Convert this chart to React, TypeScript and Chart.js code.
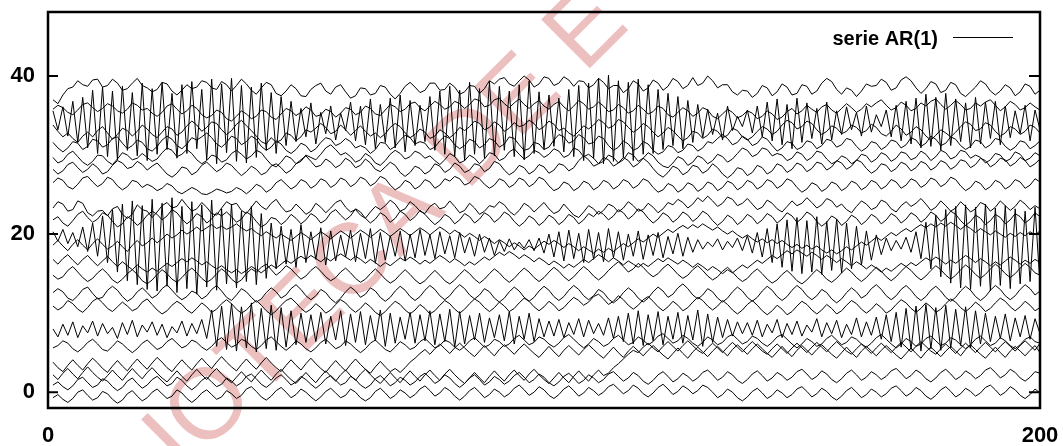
import React, { useEffect, useRef } from 'react';
import { Chart, registerables } from 'chart.js';

Chart.register(...registerables);

const seriesLabel = 'serie AR(1)';
const xTicks = [0, 200];
const yTicks = [0, 20, 40];
const watermarkText = 'BIBLIOTECA DE E';

const serie01 = [
37.0,36.5,37.6,38.4,38.6,39.4,38.9,38.7,39.5,39.6,38.6,38.8,39.6,39.1,38.2,38.4,39.1,39.7,38.8,38.5,
38.0,38.3,39.2,39.0,38.1,37.6,38.2,38.9,38.4,38.6,39.4,39.2,38.5,38.3,39.3,38.9,38.1,38.8,39.6,39.0,
38.2,37.7,38.5,39.2,38.9,37.8,37.5,38.1,38.9,38.4,37.5,37.4,38.3,38.8,39.1,38.1,37.7,38.6,38.9,38.0,
37.2,37.5,38.5,38.4,37.6,37.8,38.8,38.6,37.7,37.1,37.8,38.7,39.2,38.6,37.9,38.2,39.1,39.1,38.2,38.3,
39.1,38.6,37.7,38.0,38.8,38.7,37.8,38.4,39.4,39.0,39.6,39.8,39.0,38.7,39.4,40.0,39.5,38.6,39.0,39.9,
39.7,38.8,39.1,39.9,39.5,38.7,39.4,39.3,38.5,38.9,39.7,39.2,38.4,38.8,38.8,37.9,38.4,39.4,39.0,38.1,
38.5,39.5,39.1,38.2,38.7,39.7,39.3,38.4,38.8,39.8,38.8,39.1,40.0,39.4,38.5,38.9,38.9,38.0,37.6,38.2,
38.1,37.3,37.8,38.8,38.5,37.5,38.0,39.0,38.6,37.6,37.8,38.9,38.7,37.7,38.1,39.1,39.7,39.3,38.3,37.7,
38.5,38.2,37.4,38.1,39.0,38.7,38.8,39.6,39.2,38.2,38.5,39.5,39.9,39.4,38.5,37.8,38.4,39.3,39.0,37.9,
38.2,39.2,38.9,37.8,37.4,38.0,38.6,39.4,39.0,38.1,37.6,38.1,38.9,38.5,37.5,38.0,39.0,38.7,37.7,38.2
];

const serie02 = [
35.6,33.2,36.1,32.4,36.8,31.6,37.3,30.9,38.2,30.2,38.6,29.8,38.1,29.4,38.7,30.6,37.9,29.9,39.1,29.3,
38.4,30.1,39.2,30.7,37.8,29.6,38.9,30.2,39.3,30.8,38.3,29.4,39.6,28.9,39.0,30.3,39.7,29.2,38.8,29.0,
38.6,29.7,39.1,30.6,37.9,30.2,37.4,31.2,36.8,31.7,35.9,32.3,36.6,31.4,35.4,32.7,36.2,31.9,35.3,33.1,
36.7,31.8,36.2,31.3,37.1,30.8,36.4,31.6,37.2,30.9,37.6,30.4,36.9,31.2,36.3,31.7,37.4,30.6,38.1,30.1,
38.7,29.8,38.2,29.3,39.2,30.1,38.4,29.6,39.3,29.9,38.7,30.6,38.1,29.8,38.9,29.4,39.4,30.2,38.0,30.7,
37.6,31.1,37.2,30.4,38.3,29.8,38.8,29.3,39.1,29.6,39.7,28.9,40.1,29.2,39.4,29.7,39.2,29.3,39.6,30.1,
38.9,30.2,38.3,30.7,37.8,31.2,37.4,30.8,36.9,31.6,36.4,32.2,35.8,32.6,35.3,31.9,36.2,33.1,34.9,33.6,
35.7,32.8,36.2,32.3,36.7,31.8,37.1,31.3,36.4,30.8,37.2,31.6,36.6,32.1,35.9,31.4,36.7,31.9,35.6,32.6,
36.1,33.2,35.4,32.4,36.2,32.9,35.1,33.6,35.7,32.3,36.3,31.8,36.8,31.4,37.2,30.9,37.7,31.1,37.3,30.6,
37.8,31.2,37.1,31.7,36.6,30.9,37.3,31.4,36.7,32.1,36.8,31.3,36.2,32.2,35.6,32.7,36.3,31.8,35.7,33.2
];

const serie03 = [
35.8,36.3,36.0,35.4,35.1,35.7,36.4,36.6,36.0,35.5,35.9,36.5,36.2,35.6,35.3,35.8,36.6,36.3,35.7,35.9,
35.3,34.9,35.4,36.2,36.5,35.8,35.2,35.6,36.3,35.9,35.1,34.7,35.0,35.7,35.4,34.6,34.3,34.9,35.6,35.2,
34.6,34.9,35.7,35.5,34.8,34.5,35.2,35.9,35.6,35.0,35.4,36.1,35.7,34.9,35.1,35.8,35.5,34.8,35.3,36.0,
35.8,35.1,35.4,36.2,35.9,35.2,35.0,35.7,36.4,36.1,35.5,35.8,36.5,36.7,36.0,35.6,36.2,36.8,36.4,35.8,
36.1,36.8,36.5,35.9,36.4,37.1,36.9,36.1,36.3,37.0,37.2,36.5,36.0,36.6,37.1,36.4,35.9,36.5,36.9,36.2,
35.8,36.4,36.8,36.1,35.6,36.2,36.9,36.5,35.8,36.1,36.7,36.2,35.5,35.7,36.4,36.0,35.3,35.6,36.3,35.8,
35.2,35.5,36.2,35.9,35.1,34.8,35.4,36.0,35.6,34.9,35.3,36.0,35.7,34.9,34.6,35.2,35.8,35.4,34.7,35.0,
35.6,35.3,34.6,34.9,35.6,35.2,34.5,34.8,35.5,35.9,35.2,35.6,36.3,35.8,35.4,36.1,36.4,35.7,35.3,35.9,
36.5,36.0,35.4,35.8,36.5,36.1,36.6,37.0,36.3,35.7,36.0,36.7,36.3,35.6,35.9,36.6,36.2,36.8,37.1,36.4,
35.8,36.3,36.9,36.4,35.7,35.9,36.6,36.2,36.7,37.0,36.3,35.6,36.1,36.8,36.4,35.7,36.0,36.6,36.1,35.7
];

const serie04 = [
33.8,33.0,32.3,32.8,32.1,31.6,32.4,32.9,32.3,33.1,33.6,32.8,32.0,32.6,33.4,33.1,32.4,33.0,33.8,33.3,
32.6,32.2,32.9,33.6,33.3,32.5,32.9,33.7,34.3,33.8,33.0,33.5,34.2,34.0,33.2,32.6,33.1,33.9,34.4,33.7,
33.1,32.4,31.7,31.4,32.2,31.6,31.9,32.8,32.5,31.8,32.3,33.2,32.9,33.4,34.0,33.5,32.7,33.0,33.8,33.2,
32.5,33.1,33.7,33.0,32.4,32.8,32.2,32.7,33.5,34.0,33.6,32.8,32.2,32.6,33.3,32.9,32.1,32.4,33.2,32.8,
32.2,32.7,33.5,33.1,33.6,34.3,34.0,33.2,33.5,34.2,33.8,33.0,33.4,34.1,33.6,33.8,34.4,34.0,33.2,33.6,
34.3,33.9,33.1,33.4,32.8,32.4,33.0,33.7,33.3,33.8,34.5,34.1,33.4,33.7,34.5,34.2,33.5,32.9,33.3,34.0,
33.6,32.9,32.3,32.8,33.5,33.1,32.4,31.8,32.2,33.0,32.8,32.1,32.5,33.3,33.0,32.2,32.5,33.4,33.1,32.3,
31.9,32.3,33.0,33.6,33.3,32.6,33.0,33.8,34.4,34.1,33.3,33.6,34.3,34.0,33.2,32.6,33.0,33.7,33.4,32.7,
33.0,33.8,33.5,32.8,33.1,33.9,33.5,32.7,32.4,33.0,33.8,33.3,32.5,32.9,33.6,33.2,32.4,31.9,32.5,33.2,
32.8,32.3,32.9,33.6,34.2,33.9,33.1,33.3,34.1,33.8,33.0,32.4,32.8,33.6,33.3,32.6,33.0,33.8,33.5,32.8
];

const serie05 = [
31.6,30.9,30.4,30.9,31.7,31.5,30.7,31.1,32.0,31.8,31.0,31.3,32.1,32.3,31.5,30.8,31.2,31.9,31.6,30.8,
30.5,31.1,31.9,32.4,32.0,31.2,30.8,31.4,32.2,31.9,32.3,32.8,32.2,31.4,31.0,31.6,32.4,32.1,31.3,31.7,
32.4,32.0,31.1,30.6,31.0,31.8,31.4,30.6,30.2,30.7,31.5,31.2,30.4,30.8,31.6,32.2,32.0,31.2,31.5,32.1,
31.7,30.9,31.2,30.9,30.2,30.7,31.6,31.5,30.7,31.1,31.9,32.5,32.2,31.4,31.7,31.5,30.7,31.0,31.8,32.4,
32.1,31.3,30.8,31.2,32.0,31.7,30.9,31.3,32.1,31.8,31.0,31.4,32.3,32.1,31.3,30.6,30.8,31.6,31.4,30.7,
31.0,31.9,32.6,32.3,31.5,31.8,32.6,32.2,31.4,31.6,32.4,32.1,31.2,30.6,31.0,31.8,31.4,30.6,30.9,31.7,
31.4,30.6,30.1,30.4,31.2,31.0,30.3,30.6,31.4,31.2,30.5,30.9,31.7,31.5,32.1,32.6,32.1,31.3,31.6,32.4,
32.0,31.2,31.5,32.3,32.0,31.2,30.5,30.9,31.7,31.5,30.7,31.0,31.8,31.6,30.8,31.2,32.0,31.8,31.0,31.3,
32.1,31.9,31.1,30.5,30.9,31.7,31.5,30.7,31.1,31.9,31.7,30.9,31.3,32.2,31.9,31.1,31.5,32.4,32.0,31.2,
31.5,32.3,32.0,31.2,30.7,31.1,31.9,31.7,30.9,31.3,32.1,31.9,31.1,30.6,31.0,31.8,31.6,30.8,31.2,31.8
];

const serie06 = [
29.7,29.0,29.3,30.1,30.5,29.8,29.1,28.7,29.2,30.0,29.9,29.2,28.8,29.5,30.3,30.0,29.4,29.6,30.2,29.7,
29.2,29.5,30.3,30.9,30.6,29.8,30.1,30.7,30.2,29.4,28.9,29.3,30.0,29.8,29.1,29.4,30.2,30.6,30.1,29.5,
29.9,30.6,30.3,29.5,28.8,28.5,29.1,29.9,29.6,28.9,29.2,30.0,29.7,29.4,30.1,30.9,31.3,30.7,30.0,30.3,
29.8,29.1,29.4,30.2,29.8,29.0,28.7,29.3,30.1,30.6,30.2,29.5,29.8,30.5,30.2,29.6,29.9,29.3,28.8,29.4,
30.2,29.8,29.0,29.3,30.0,29.6,28.9,29.5,30.3,30.1,29.3,29.6,30.4,30.8,30.1,29.5,29.9,30.6,30.3,29.7,
30.1,30.8,30.5,29.7,30.0,30.9,30.6,29.8,30.1,29.6,28.9,29.2,30.0,29.7,29.0,29.4,30.3,30.0,29.2,29.6,
30.3,29.9,29.1,28.6,28.4,29.0,29.8,29.5,28.7,29.1,29.9,29.6,28.9,29.3,30.1,29.8,29.1,29.5,30.2,30.9,
30.6,29.8,30.1,30.9,30.7,29.9,30.2,30.0,29.3,29.6,30.4,30.1,29.3,29.7,30.5,30.3,29.5,28.9,29.2,29.9,
29.6,28.9,29.3,30.1,29.9,29.1,29.5,30.3,30.0,29.2,29.6,30.4,30.2,29.4,29.7,30.5,30.1,29.3,29.8,30.6,
30.3,29.5,29.8,30.6,30.4,29.6,30.0,29.7,29.0,29.4,30.2,30.0,29.2,29.5,30.4,30.1,29.3,29.6,30.3,29.9
];

const serie07 = [
28.2,27.6,28.0,28.8,29.1,28.4,27.8,28.2,28.9,28.4,27.6,27.9,28.7,29.3,29.0,28.3,28.5,29.2,28.8,28.1,
28.6,29.0,28.3,27.6,27.2,27.7,28.5,28.3,27.5,27.9,28.7,29.1,28.5,27.9,28.3,29.0,28.7,28.0,27.4,27.9,
28.6,28.2,27.5,27.8,28.6,28.9,28.4,27.7,28.1,28.9,29.4,29.9,29.2,28.5,28.7,29.5,29.1,28.4,28.8,29.6,
29.2,28.4,28.7,29.5,29.0,28.2,27.9,28.5,29.1,28.7,27.8,27.3,27.8,28.6,28.3,27.6,28.0,28.9,28.6,27.8,
28.2,29.0,28.6,27.8,28.1,28.9,28.7,27.9,28.3,29.2,28.9,28.1,27.5,27.9,28.7,28.4,27.6,28.0,28.8,28.5,
27.7,28.1,28.9,28.7,28.0,28.4,29.3,29.9,29.4,28.6,28.9,29.7,29.4,28.6,29.0,29.7,29.3,28.5,28.9,29.6,
29.1,28.3,27.6,27.2,27.8,28.6,28.3,27.5,27.9,28.7,28.5,27.7,28.1,28.9,28.4,27.6,27.1,27.6,28.4,28.2,
27.4,27.8,28.7,28.4,27.6,28.0,28.9,28.6,27.8,28.2,29.0,28.7,27.9,28.3,29.1,28.9,28.1,28.5,29.3,29.0,
28.2,28.6,29.4,29.1,28.3,27.7,28.1,28.9,28.7,27.9,28.3,29.1,28.8,28.0,28.4,29.2,28.9,28.1,28.5,29.3,
29.0,28.2,28.6,29.4,29.2,28.4,28.8,29.6,29.3,28.5,28.9,29.6,29.4,28.6,29.0,29.7,29.3,28.5,28.9,29.5
];

const serie08 = [
26.5,27.1,26.8,26.0,25.7,26.3,27.1,27.3,26.6,26.0,26.4,27.2,26.9,26.1,25.6,26.0,26.8,26.6,25.9,26.3,
26.0,25.5,25.8,26.4,26.1,25.4,25.1,25.5,25.9,25.6,25.1,25.0,25.3,25.7,25.5,25.2,25.4,25.9,25.6,25.1,
25.6,26.3,26.0,25.3,25.7,26.5,26.9,26.3,25.7,26.1,26.9,26.6,25.8,26.2,27.0,26.7,25.9,26.3,27.1,26.8,
26.0,26.4,27.2,26.9,26.1,26.5,27.3,27.0,26.2,25.6,26.0,26.8,26.5,25.7,26.1,26.9,26.6,25.8,26.2,27.0,
26.7,27.3,27.0,26.2,26.5,27.3,27.0,26.3,25.8,26.2,27.0,26.7,25.9,26.3,27.1,26.8,26.0,26.4,27.2,26.9,
26.1,25.5,25.8,26.6,26.3,25.5,25.9,26.7,26.4,25.6,26.0,26.8,26.5,25.7,26.1,26.9,26.6,25.8,26.2,27.0,
26.7,25.9,25.3,25.6,26.4,26.1,25.3,25.7,26.5,26.2,25.4,25.8,26.6,26.3,25.5,25.9,26.7,26.4,25.6,26.0,
26.8,26.5,25.7,26.1,26.9,26.6,25.8,26.2,27.0,26.7,25.9,25.3,25.7,26.5,26.2,25.4,25.8,26.6,26.3,25.5,
25.9,26.7,26.4,25.6,26.0,26.8,26.5,25.7,26.1,26.9,26.6,25.8,26.2,27.0,26.7,25.9,26.3,27.1,26.8,26.0,
26.4,27.2,26.9,26.1,25.5,25.9,26.7,26.4,25.6,26.0,26.8,26.5,25.7,26.1,26.9,26.6,25.8,26.2,27.0,26.6
];

const serie09 = [
23.3,24.1,23.8,22.9,23.1,24.2,23.9,22.7,22.3,22.9,23.0,22.3,23.2,23.5,22.5,22.0,22.5,23.7,23.1,22.9,
22.1,22.8,23.6,24.0,23.3,23.5,24.4,23.6,22.9,23.2,24.0,23.4,22.6,22.4,23.3,24.1,23.7,23.9,23.0,22.6,
23.4,24.2,23.5,23.1,23.9,24.4,23.5,22.8,23.0,23.8,23.2,22.5,22.9,23.9,23.4,22.7,23.3,24.0,24.3,23.4,
22.8,23.1,22.4,22.0,22.8,23.5,23.1,23.6,24.3,23.8,22.9,23.2,24.1,23.6,22.9,22.6,23.5,23.9,23.2,23.4,
24.2,23.5,22.7,23.0,23.9,23.3,22.5,22.9,23.6,23.4,24.1,23.7,22.9,22.4,23.0,23.9,23.5,22.8,23.4,24.0,
23.2,22.6,22.9,23.8,23.1,22.4,22.1,22.8,23.6,23.2,22.5,23.0,23.8,23.5,22.8,23.3,24.1,23.6,22.9,23.1,
23.9,23.4,22.7,23.2,24.0,23.7,24.4,24.0,23.3,23.8,24.6,24.1,24.8,24.2,23.5,23.9,24.7,24.4,23.6,23.9,
24.5,23.8,23.1,23.4,24.3,23.9,23.2,22.8,23.5,24.2,23.6,23.9,24.6,24.0,23.3,23.7,24.5,24.2,23.4,23.8,
23.1,22.7,23.5,24.2,23.8,23.1,23.4,24.3,24.0,23.2,22.8,23.6,24.1,23.5,23.9,24.5,23.8,23.0,23.4,24.2,
23.6,22.9,23.3,24.1,23.5,22.8,23.2,24.0,23.7,22.9,23.4,24.2,23.6,23.0,23.5,24.3,23.8,23.1,23.6,23.2
];

const serie10 = [
21.8,22.2,21.4,21.0,21.7,22.5,22.9,22.1,21.5,21.9,22.7,22.4,21.6,20.9,21.3,22.2,21.8,21.1,21.6,22.4,
22.9,22.5,21.8,22.3,23.1,22.7,21.9,21.3,21.8,22.6,22.2,21.4,21.9,22.7,22.3,22.8,22.2,21.5,21.9,22.8,
22.4,21.6,20.9,21.3,22.1,21.9,21.2,21.7,22.5,22.0,21.3,21.8,22.6,22.2,21.4,21.8,22.7,23.1,22.4,21.8,
22.3,23.2,22.8,22.0,21.4,21.9,22.7,22.3,21.5,22.0,22.9,22.5,21.7,22.2,23.0,22.5,21.8,21.2,21.7,22.5,
22.1,21.3,21.8,22.6,22.2,21.4,21.9,22.7,22.3,21.5,22.0,22.8,22.4,21.6,21.0,21.5,22.3,21.9,21.1,21.6,
22.4,22.0,21.2,21.7,22.5,22.1,21.3,21.8,22.6,22.2,22.9,22.5,21.8,22.3,23.1,22.7,21.9,22.4,23.2,22.8,
22.0,21.4,21.9,22.7,22.3,21.5,22.0,22.8,22.4,21.6,22.1,22.9,22.5,21.7,21.1,21.6,22.4,22.0,21.2,21.7,
22.5,22.1,21.3,21.8,22.6,22.2,21.4,21.9,22.7,22.3,21.5,22.0,22.8,22.4,21.6,21.0,21.5,22.3,21.9,21.1,
21.6,22.4,22.0,21.2,21.7,22.5,22.1,21.3,21.8,22.6,22.2,21.4,21.9,22.7,22.3,21.5,22.0,22.8,22.4,21.6,
22.1,22.9,22.5,21.7,21.1,21.6,22.4,22.0,21.2,21.7,22.5,22.1,21.3,21.8,22.6,22.2,21.4,21.9,22.7,22.2
];

const serie11 = [
20.3,19.1,20.6,18.8,20.2,18.4,20.9,17.8,21.4,17.2,22.3,16.4,
23.1,15.2,23.8,14.1,24.2,13.6,23.6,13.0,24.4,12.8,23.9,13.4,24.6,12.6,23.5,13.1,24.1,12.4,23.7,13.3,
24.3,12.9,23.2,13.7,23.8,13.2,22.9,14.0,23.5,13.6,22.6,14.4,
21.4,15.6,21.0,16.2,20.6,15.8,21.2,16.4,20.3,16.8,20.8,16.1,20.4,16.6,19.9,17.1,20.5,16.5,20.1,16.9,
20.7,16.3,20.2,16.7,19.8,17.2,20.4,16.6,20.0,17.0,20.6,
17.3,19.9,16.9,20.3,17.5,19.8,17.0,20.2,17.6,19.6,17.2,20.0,17.7,19.5,17.3,
19.2,17.8,19.4,18.0,19.0,18.2,19.3,17.9,19.5,17.6,
20.0,17.1,20.3,16.6,20.5,16.9,20.1,16.4,20.6,16.8,20.2,16.5,20.7,17.0,20.3,16.7,20.0,17.2,20.4,16.8,
19.9,17.3,20.2,17.0,19.7,17.5,20.1,17.2,19.6,17.7,
19.3,18.1,19.0,18.4,19.4,18.0,19.1,18.3,19.5,17.9,19.8,17.6,20.2,17.1,20.7,
16.4,21.3,15.8,21.8,15.3,22.1,15.0,21.7,15.2,22.2,14.9,21.6,15.4,21.9,15.1,21.4,15.6,21.0,16.1,20.4,16.7,
19.9,17.4,19.5,17.9,19.2,18.1,19.6,17.7,20.3,16.9,
21.5,15.6,22.4,14.6,23.1,13.8,23.5,13.2,23.7,13.0,23.4,13.4,23.8,12.8,23.3,13.5,23.6,13.1,23.2,13.7,
22.9,14.0,23.4,13.6
];

const serie12 = [
18.6,19.2,18.5,17.9,18.7,19.3,18.6,18.0,18.8,19.4,18.7,18.1,18.5,19.1,18.4,17.8,18.6,19.2,18.5,18.9,
19.5,18.9,19.4,20.0,19.5,19.9,20.5,20.0,20.4,20.9,20.4,20.8,21.2,20.7,21.0,20.6,20.9,21.3,20.8,20.4,
20.7,20.2,19.8,20.3,19.9,19.5,20.0,19.6,19.2,19.7,20.2,19.8,19.3,19.8,20.3,19.9,19.4,19.9,20.4,20.0,
19.5,20.0,20.5,20.1,19.6,20.1,20.6,20.2,19.7,20.2,20.7,20.3,19.8,20.3,20.8,20.4,19.9,20.4,20.9,20.5,
20.0,20.5,20.1,19.6,20.1,19.7,19.2,19.7,19.3,18.8,19.3,18.9,18.4,18.9,18.5,18.0,18.5,18.1,18.6,19.1,
18.7,19.2,18.8,18.3,18.8,18.4,17.9,18.4,18.0,17.6,18.1,17.7,18.2,17.8,18.3,18.8,18.4,18.9,19.4,19.0,
19.5,20.0,19.6,20.1,20.6,20.2,20.7,21.1,20.7,21.2,20.8,21.3,20.9,20.5,20.9,20.4,20.0,20.4,19.9,19.5,
19.9,19.4,19.0,19.4,18.9,19.3,18.8,19.2,18.7,18.3,18.7,18.2,18.6,18.1,18.5,18.0,17.6,18.0,17.5,17.9,
18.4,18.0,18.5,19.0,18.6,19.1,19.6,19.2,19.7,20.2,19.8,20.3,20.7,20.3,20.8,21.2,20.8,21.3,20.9,21.4,
21.0,21.5,21.1,20.6,21.1,20.7,20.2,20.7,20.3,19.9,20.4,20.0,19.6,20.1,19.7,20.2,19.8,20.3,19.9,20.4
];

const serie13 = [
16.8,16.2,16.9,17.4,16.7,16.1,16.8,17.3,16.6,16.0,16.6,17.2,16.5,15.9,16.5,16.0,15.5,16.1,15.6,15.2,
15.7,15.3,15.8,16.3,15.9,16.4,16.9,16.5,17.0,16.6,16.1,16.5,16.0,15.6,16.0,15.5,15.1,15.5,15.0,15.4,
15.9,15.5,15.1,15.6,16.1,15.7,16.2,16.7,16.3,16.8,17.2,16.8,17.3,16.9,16.5,17.0,16.6,17.1,17.5,17.1,
16.7,17.2,16.8,16.3,16.8,16.4,15.9,16.4,16.0,16.5,17.0,16.6,17.1,16.7,16.2,16.7,16.3,16.8,17.3,16.9,
16.4,16.9,16.5,16.0,16.5,16.1,16.6,17.1,16.7,17.2,17.7,17.3,17.8,17.4,16.9,17.4,17.0,16.5,17.0,16.6,
16.1,16.6,16.2,15.7,16.2,15.8,16.3,16.8,16.4,16.9,17.4,17.0,16.5,17.0,16.6,16.1,16.6,16.2,15.8,16.3,
15.9,16.4,16.9,16.5,17.0,16.6,16.2,16.7,16.3,15.8,16.3,15.9,15.4,15.9,15.5,15.0,15.5,15.1,15.6,16.1,
15.7,16.2,16.7,16.3,16.8,17.3,16.9,17.4,17.9,17.5,18.0,17.6,17.2,17.7,17.3,16.8,17.3,16.9,16.4,16.9,
16.5,16.0,16.5,16.1,15.6,16.1,15.7,15.2,15.7,15.3,15.8,16.3,15.9,16.4,16.0,16.5,17.0,16.6,17.1,16.7,
16.2,16.7,16.3,16.8,17.3,16.9,16.4,16.9,16.5,16.0,16.5,16.1,16.6,17.1,16.7,16.2,16.7,16.3,16.8,16.4
];

const serie14 = [
14.8,14.3,14.6,15.4,15.9,15.2,14.5,14.0,14.4,15.1,15.6,15.0,14.2,13.8,14.3,15.0,15.5,14.9,14.1,13.7,
14.2,14.9,15.5,15.0,14.3,13.9,14.5,15.2,15.7,15.1,14.4,13.9,14.3,15.0,15.6,15.1,14.3,13.8,14.2,15.0,
15.6,15.2,15.8,16.2,15.5,14.8,15.3,16.0,15.6,14.9,14.3,14.7,15.4,15.9,15.3,14.6,14.1,14.5,15.2,15.7,
15.1,14.4,13.9,14.3,15.0,15.6,15.0,14.3,13.8,14.2,14.9,15.5,14.9,14.2,13.7,14.1,14.8,15.4,14.8,14.1,
13.7,14.2,14.9,15.5,15.0,14.3,13.8,14.3,15.0,15.6,15.1,14.4,13.9,14.4,15.1,15.7,15.2,14.5,14.0,14.5,
15.2,15.8,15.3,14.6,14.1,14.6,15.3,15.9,15.4,14.7,14.2,14.7,15.4,16.0,16.5,15.9,15.2,15.6,16.3,15.8,
15.1,14.6,15.0,15.7,16.2,15.6,14.9,14.4,14.8,15.5,16.0,15.4,14.7,14.2,14.6,15.3,15.8,15.2,14.5,14.0,
14.4,15.1,15.6,15.0,14.3,13.8,14.2,14.9,15.4,14.8,14.1,13.7,14.2,14.9,15.5,15.0,14.3,13.9,14.4,15.1,
15.7,15.2,14.5,14.0,14.5,15.2,15.8,15.3,14.6,14.1,14.6,15.3,15.9,15.4,14.7,14.2,14.7,15.4,16.0,15.5,
14.8,14.3,14.8,15.5,16.1,15.6,14.9,14.4,14.9,15.6,16.2,15.7,15.0,14.5,15.0,15.7,16.3,15.8,15.1,14.8
];

const serie15 = [
12.6,13.1,12.7,11.9,11.6,12.2,13.0,13.3,12.5,11.8,12.0,12.9,13.4,12.9,12.1,11.5,11.9,12.7,13.2,12.6,
11.9,12.3,13.1,13.6,12.9,12.2,11.7,12.1,12.8,12.5,11.8,12.2,13.0,13.5,12.8,12.0,11.6,12.3,13.1,12.7,
12.0,11.4,11.8,12.6,13.2,12.7,11.9,12.3,13.1,13.6,13.0,12.2,11.7,12.2,13.0,12.6,11.8,11.3,11.9,12.7,
13.3,12.8,12.0,12.4,13.2,12.8,12.0,11.5,12.0,12.8,13.4,12.9,12.1,11.6,12.1,12.9,13.5,13.0,12.2,11.7,
12.2,13.0,13.6,13.1,12.3,11.8,12.3,13.1,12.7,11.9,11.4,11.9,12.7,13.3,12.8,12.0,11.5,12.0,12.8,13.4,
12.9,12.1,11.6,12.1,12.9,13.5,13.0,12.2,11.7,12.2,13.0,12.6,11.8,11.3,11.8,12.6,13.2,12.7,11.9,11.4,
11.9,12.7,13.3,12.8,12.0,12.4,13.2,13.7,13.1,12.3,11.8,12.3,13.1,12.7,11.9,11.4,11.9,12.7,13.3,12.8,
12.0,11.5,12.0,12.8,13.4,12.9,12.1,11.6,12.1,12.9,13.5,13.0,12.2,11.7,12.2,13.0,12.6,11.8,11.3,11.8,
12.6,13.2,12.7,11.9,12.3,13.1,13.6,13.0,12.2,11.7,12.2,13.0,13.5,12.9,12.1,11.6,12.1,12.9,13.4,12.8,
12.0,11.5,12.0,12.8,13.4,12.9,12.1,11.6,12.1,12.9,13.5,13.0,12.2,11.7,12.2,13.0,13.6,13.1,12.3,12.8
];

const serie16 = [
10.9,10.4,10.8,11.6,11.2,10.5,10.1,10.7,11.5,11.9,11.3,10.6,10.2,10.8,11.4,10.9,10.3,10.6,11.4,11.8,
11.1,10.4,9.9,10.3,11.0,11.5,11.1,10.4,10.0,10.6,11.3,10.8,10.1,10.5,11.2,11.7,11.2,10.5,10.0,10.4,
11.1,11.6,11.0,10.3,9.8,10.3,11.0,11.6,11.9,11.3,10.6,10.1,10.5,11.2,10.7,10.0,10.4,11.1,11.7,11.3,
10.6,10.1,10.6,11.3,10.8,10.1,9.7,10.2,10.9,11.5,11.1,10.4,9.9,10.4,11.1,10.6,9.9,10.3,11.0,11.6,
11.2,10.5,10.0,10.5,11.2,11.8,11.4,10.7,10.2,10.7,11.4,10.9,10.2,10.6,11.3,11.9,11.5,10.8,10.3,10.8,
11.5,11.0,10.3,10.7,11.4,12.0,11.6,11.0,11.4,12.1,12.4,11.8,11.1,11.5,12.2,11.7,11.0,10.5,11.0,11.7,
12.1,11.5,10.8,10.3,10.8,11.5,11.0,10.3,10.7,11.4,12.0,11.6,10.9,10.4,10.9,11.6,11.1,10.4,9.9,10.4,
11.1,11.6,11.0,10.3,9.8,10.3,11.0,10.5,9.8,10.2,10.9,11.5,11.1,10.4,9.9,10.4,11.1,10.6,9.9,10.3,
11.0,11.6,11.2,10.5,10.0,10.5,11.2,10.7,10.0,10.4,11.1,11.7,11.3,10.6,10.1,10.6,11.3,10.8,10.1,10.5,
11.2,11.8,11.4,10.7,10.2,10.7,11.4,10.9,10.2,10.6,11.3,11.9,11.5,10.8,10.3,10.8,11.5,11.0,10.3,10.7
];

const serie17 = [
8.0,7.0,8.6,7.2,8.9,6.9,8.4,7.5,9.0,7.1,8.7,7.4,8.2,6.8,8.8,7.3,9.1,7.0,8.5,7.6,
8.9,7.2,8.6,6.9,8.3,7.5,9.0,7.1,8.7,7.4,9.2,6.8,
10.4,5.8,10.9,5.4,11.2,5.2,10.8,5.6,11.3,5.1,10.6,5.5,11.0,5.3,10.7,5.7,10.3,6.0,10.0,6.3,
9.8,6.4,10.1,6.1,9.6,6.6,10.3,5.9,9.9,6.3,10.2,6.0,9.7,6.5,10.4,5.8,10.0,6.2,9.5,6.7,
10.1,6.2,9.8,6.5,10.3,6.0,9.9,6.4,10.5,5.7,10.2,6.1,9.7,6.6,10.0,6.3,9.4,6.9,9.8,6.5,
10.2,6.1,9.6,6.7,10.0,6.4,9.3,7.0,
9.0,7.1,9.2,6.9,8.8,7.3,9.3,7.0,9.1,7.4,8.7,7.2,9.4,6.8,9.6,
6.4,10.0,6.1,10.3,5.9,9.8,6.5,10.2,6.0,9.6,6.7,10.1,6.2,9.7,6.6,10.4,5.8,9.9,6.3,9.5,
6.9,9.2,7.1,8.9,7.4,
8.8,7.2,9.1,7.0,8.6,7.5,9.2,6.9,8.7,7.3,9.0,7.1,8.5,7.6,9.3,7.0,8.8,7.4,9.1,6.9,
8.6,7.3,9.4,7.0,8.9,7.2,9.5,6.7,9.8,6.4,10.1,
5.7,10.6,5.4,10.9,5.2,11.1,5.5,10.7,5.3,11.0,5.6,10.5,5.9,10.8,5.6,10.3,6.1,10.0,6.4,
9.6,6.8,9.9,6.5,9.4,7.0,9.7,6.7,9.3,7.4
];

const serie18 = [
5.6,5.9,6.5,6.2,5.5,5.1,5.6,6.3,6.7,6.1,5.4,5.2,5.8,6.5,6.1,5.5,5.0,5.5,6.2,6.6,
6.0,5.4,5.7,6.4,6.8,6.2,5.6,5.9,6.6,6.3,5.7,5.3,5.8,6.5,6.9,6.3,5.7,6.0,6.7,6.4,
5.8,5.4,5.9,6.6,7.0,6.4,5.8,5.3,5.8,6.5,6.1,5.5,5.1,5.6,6.3,6.7,6.1,5.5,5.8,6.5,
6.1,5.5,5.0,5.5,6.2,6.6,6.0,5.4,5.1,5.7,6.4,6.0,5.4,5.7,6.4,6.8,6.2,5.6,5.9,6.6,
6.3,5.7,5.3,5.8,6.5,6.9,6.3,5.7,6.0,6.7,6.4,5.8,6.1,6.8,7.2,6.6,6.0,6.3,7.0,6.7,
6.1,5.7,6.2,6.9,7.3,6.7,6.1,5.6,6.1,6.8,6.4,5.8,6.1,6.8,7.2,6.6,6.0,6.3,7.0,6.6,
6.0,6.4,7.1,7.4,6.8,6.2,6.5,7.2,6.8,6.2,5.8,6.3,7.0,6.6,6.0,6.3,7.0,7.3,6.7,6.1,
6.4,7.1,6.8,6.2,5.8,6.3,7.0,7.3,6.7,6.1,5.6,6.1,6.8,6.4,5.8,6.1,6.8,7.2,6.6,6.0,
6.3,7.0,6.7,6.1,5.7,6.2,6.9,7.3,6.7,6.1,5.6,6.1,6.8,6.4,5.8,6.1,6.8,7.1,6.5,5.9,
6.2,6.9,6.6,6.0,5.5,6.0,6.7,7.1,6.5,5.9,6.2,6.9,6.5,5.9,5.5,6.0,6.7,7.0,6.4,6.2
];

const serie19 = [
3.8,3.1,2.6,3.4,4.1,3.4,2.8,3.6,4.3,3.7,3.0,2.5,3.3,4.0,3.3,2.7,3.5,4.2,3.5,2.9,
3.7,4.4,3.8,3.1,2.6,3.4,4.1,3.4,2.8,3.6,4.3,3.6,3.0,3.8,4.5,3.8,3.2,2.7,3.5,4.2,
3.5,2.9,3.7,4.4,3.7,3.1,2.6,3.4,4.1,3.4,2.8,3.6,4.3,3.6,3.0,2.5,3.3,4.0,3.3,2.7,
3.5,4.2,3.5,2.9,2.4,3.2,3.9,3.2,2.6,3.0,2.5,3.1,3.8,4.3,4.9,5.4,4.8,5.5,6.1,5.5,
4.9,5.6,6.2,5.6,5.0,4.5,5.2,5.9,5.2,4.6,5.4,6.0,5.4,4.8,5.5,6.1,5.5,4.9,4.4,5.1,
5.8,5.1,4.5,5.3,5.9,5.3,4.7,5.4,6.0,5.4,4.8,4.3,5.0,5.7,5.0,4.4,5.2,5.8,5.2,4.6,
5.3,5.9,5.3,4.7,4.2,4.9,5.6,4.9,4.3,5.1,5.7,5.1,4.5,5.2,5.8,5.2,4.6,5.4,6.0,5.4,
4.8,5.5,6.1,5.5,4.9,4.4,5.1,5.8,5.1,4.5,5.3,5.9,5.3,4.7,5.4,6.0,5.4,4.8,4.3,5.0,
5.7,5.0,4.4,5.2,5.8,5.2,4.6,5.3,5.9,5.3,4.7,4.2,4.9,5.6,4.9,4.3,5.1,5.7,5.1,4.5,
5.2,5.8,5.2,4.6,5.4,6.0,5.4,4.8,4.3,5.0,5.7,5.0,4.4,5.2,5.8,5.2,4.6,5.3,5.9,5.0
];

const serie20 = [
2.2,1.6,2.4,3.0,2.3,1.7,2.5,3.2,2.5,1.9,1.4,2.1,2.8,2.1,1.5,2.3,3.0,2.3,1.7,2.5,
3.1,2.4,1.8,1.3,2.0,2.7,2.0,1.4,2.2,2.9,2.2,1.6,2.4,3.0,2.3,1.7,1.2,1.9,2.6,1.9,
1.3,2.1,2.8,2.1,1.5,2.3,2.9,2.2,1.6,1.1,1.8,2.5,1.8,1.2,2.0,2.7,2.0,1.4,2.2,2.8,
2.1,1.5,2.3,2.9,2.2,1.6,1.1,1.8,2.5,1.8,1.2,2.0,2.7,2.0,1.4,2.2,2.8,2.1,1.5,2.3,
2.9,2.2,1.6,1.1,1.8,2.5,1.8,1.2,2.0,2.7,2.0,1.4,2.2,2.8,2.1,1.5,2.3,2.9,2.2,1.6,
1.1,1.8,2.5,1.8,1.2,2.0,2.7,2.0,1.4,2.2,2.8,2.1,2.4,3.1,3.6,4.2,4.8,5.3,5.0,5.7,
6.2,5.6,5.1,5.8,6.4,5.8,5.2,5.9,6.5,5.9,5.3,4.9,5.6,6.2,5.6,5.0,5.7,6.3,5.7,5.1,
5.8,6.4,5.8,5.2,4.8,5.5,6.1,5.5,4.9,5.6,6.2,5.6,5.0,5.7,6.3,5.7,5.1,5.8,6.4,5.8,
5.2,4.8,5.5,6.1,5.5,4.9,5.6,6.2,5.6,5.0,5.7,6.3,5.7,5.1,5.8,6.4,5.8,5.2,4.8,5.5,
6.1,5.5,4.9,5.6,6.2,5.6,5.0,5.7,6.3,5.7,5.1,5.8,6.4,5.8,5.2,5.9,6.5,5.9,5.3,6.2
];

const serie21 = [
0.9,1.3,0.7,0.3,0.8,1.6,1.9,1.2,0.6,0.9,1.7,1.4,0.7,0.2,0.6,1.4,1.8,1.1,0.5,0.9,
1.6,2.0,1.4,0.8,1.1,1.9,1.5,0.8,0.3,0.8,1.5,1.9,1.3,0.7,1.0,1.8,1.4,0.8,1.2,2.0,
2.3,1.7,1.0,0.6,1.1,1.8,2.2,1.6,0.9,1.3,2.0,1.6,1.0,0.5,1.0,1.7,2.1,1.5,0.9,1.2,
2.0,1.6,0.9,0.5,0.9,1.7,2.1,1.5,0.8,1.2,1.9,1.5,0.9,1.3,2.0,2.4,1.8,1.1,1.5,2.2,
1.8,1.1,0.6,1.1,1.8,2.2,1.6,0.9,1.3,2.0,1.6,1.0,1.4,2.1,2.5,1.9,1.2,1.6,2.3,1.9,
1.2,0.8,1.3,2.0,2.4,1.8,1.1,1.5,2.2,1.8,1.2,1.6,2.3,2.6,2.0,1.4,1.8,2.5,2.1,1.4,
1.0,1.5,2.2,2.6,2.0,1.3,1.7,2.4,2.0,1.4,1.8,2.5,2.8,2.2,1.5,1.9,2.6,2.2,1.5,1.1,
1.6,2.3,2.7,2.1,1.4,1.8,2.5,2.1,1.5,1.9,2.6,2.9,2.3,1.6,2.0,2.7,2.3,1.6,1.2,1.7,
2.4,2.8,2.2,1.5,1.9,2.6,2.2,1.6,2.0,2.7,3.0,2.4,1.7,2.1,2.8,2.4,1.7,1.3,1.8,2.5,
2.9,2.3,1.6,2.0,2.7,2.3,1.7,2.1,2.8,3.1,2.5,1.8,2.2,2.9,2.5,1.8,1.4,1.9,2.6,2.4
];

const serie22 = [
-0.7,-0.3,-0.9,-1.3,-0.8,0.0,0.3,-0.4,-1.0,-0.7,0.1,-0.2,-0.9,-1.4,-1.0,-0.2,0.2,-0.5,-1.1,-0.7,
0.0,0.4,-0.2,-0.8,-0.5,0.3,-0.1,-0.8,-1.3,-0.8,-0.1,0.3,-0.3,-0.9,-0.6,0.2,-0.2,-0.8,-0.4,0.4,
0.7,0.1,-0.6,-1.0,-0.5,0.2,0.6,0.0,-0.7,-0.3,0.4,0.0,-0.6,-1.1,-0.6,0.1,0.5,-0.1,-0.7,-0.4,
0.4,0.0,-0.7,-1.1,-0.7,0.1,0.5,-0.1,-0.8,-0.4,0.3,-0.1,-0.7,-0.3,0.4,0.8,0.2,-0.5,-0.1,0.6,
0.2,-0.5,-1.0,-0.5,0.2,0.6,0.0,-0.7,-0.3,0.4,0.0,-0.6,-0.2,0.5,0.9,0.3,-0.4,0.0,0.7,0.3,
-0.4,-0.8,-0.3,0.4,0.8,0.2,-0.5,-0.1,0.6,0.2,-0.4,0.0,0.7,1.0,0.4,-0.2,0.2,0.9,0.5,-0.2,
-0.6,-0.1,0.6,1.0,0.4,-0.3,0.1,0.8,0.4,-0.2,0.2,0.9,0.6,0.0,-0.7,-0.3,0.4,0.0,-0.7,-1.1,
-0.6,0.1,0.5,-0.1,-0.8,-0.4,0.3,-0.1,-0.7,-0.3,0.4,0.7,0.1,-0.6,-0.2,0.5,0.1,-0.6,-1.0,-0.5,
0.2,0.6,0.0,-0.7,-0.3,0.4,0.0,-0.6,-0.2,0.5,0.8,0.2,-0.5,-0.1,0.6,0.2,-0.5,-0.9,-0.4,0.3,
0.7,0.1,-0.6,-0.2,0.5,0.1,-0.5,-0.1,0.6,0.9,0.3,-0.4,0.0,0.7,0.3,-0.4,-0.8,-0.3,0.4,-0.1
];

const allSeries = [
  serie01, serie02, serie03, serie04, serie05, serie06, serie07, serie08, serie09, serie10, serie11,
  serie12, serie13, serie14, serie15, serie16, serie17, serie18, serie19, serie20, serie21, serie22,
];

const tickFont = { family: "'Liberation Sans', Arial, sans-serif", size: 22, weight: 'bold' as const };

const zeroPadding = (s: any) => {
  s.paddingTop = 0;
  s.paddingBottom = 0;
  s.paddingLeft = 0;
  s.paddingRight = 0;
};

export default function App() {
  const ref = useRef<HTMLCanvasElement>(null);

  useEffect(() => {
    document.body.style.margin = '0';
    const canvas = ref.current;
    if (!canvas) return;

    const decor = {
      id: 'decor',
      beforeDatasetsDraw(chart: any) {
        const ctx = chart.ctx as CanvasRenderingContext2D;
        ctx.save();
        ctx.font = "100px 'Liberation Sans', Arial, sans-serif";
        ctx.fillStyle = 'rgba(200, 60, 60, 0.32)';
        ctx.textAlign = 'left';
        ctx.textBaseline = 'middle';
        ctx.translate(211, 408);
        ctx.rotate(-Math.PI / 4);
        const pre = ctx.measureText('BIBLI').width;
        const o = ctx.measureText('O').width;
        ctx.fillText(watermarkText, -(pre + o / 2), 0);
        ctx.restore();
      },
      afterDatasetsDraw(chart: any) {
        const ctx = chart.ctx as CanvasRenderingContext2D;
        const a = chart.chartArea;
        const ys = chart.scales.y;
        ctx.save();
        ctx.strokeStyle = '#000';
        ctx.lineWidth = 2.5;
        ctx.strokeRect(a.left, a.top, a.right - a.left, a.bottom - a.top);
        ctx.lineWidth = 2;
        yTicks.forEach((v) => {
          const y = ys.getPixelForValue(v);
          ctx.beginPath();
          ctx.moveTo(a.left, y);
          ctx.lineTo(a.left + 10, y);
          ctx.moveTo(a.right, y);
          ctx.lineTo(a.right - 11, y);
          ctx.stroke();
        });
        ctx.font = "bold 20px 'Liberation Sans', Arial, sans-serif";
        ctx.fillStyle = '#000';
        ctx.textAlign = 'right';
        ctx.textBaseline = 'alphabetic';
        ctx.fillText(chart.data.datasets[0].label, 938, 45);
        ctx.lineWidth = 1;
        ctx.beginPath();
        ctx.moveTo(953, 37.5);
        ctx.lineTo(1013, 37.5);
        ctx.stroke();
        ctx.restore();
      },
    };

    const chart = new Chart(canvas, {
      type: 'line',
      data: {
        datasets: allSeries.map((arr) => ({
          label: seriesLabel,
          data: arr.map((y, i) => ({ x: i + 1, y })),
          borderColor: '#000',
          borderWidth: 1,
          pointRadius: 0,
          fill: false,
          tension: 0,
        })),
      },
      options: {
        responsive: false,
        animation: false,
        devicePixelRatio: 1,
        layout: { padding: { top: 12, right: 23, left: 0, bottom: 0 } },
        plugins: { legend: { display: false }, tooltip: { enabled: false } },
        events: [],
        scales: {
          x: {
            type: 'linear',
            min: 0,
            max: 200,
            grid: { display: false, drawTicks: false },
            border: { display: false },
            ticks: { font: tickFont, color: '#000', padding: 15, maxRotation: 0, autoSkip: false },
            afterBuildTicks: (s: any) => { s.ticks = xTicks.map((v) => ({ value: v })); },
            afterFit: (s: any) => { s.height = 38; zeroPadding(s); },
          },
          y: {
            type: 'linear',
            min: -2,
            max: 48.1,
            grid: { display: false, drawTicks: false },
            border: { display: false },
            ticks: { font: tickFont, color: '#000', padding: 13 },
            afterBuildTicks: (s: any) => { s.ticks = yTicks.map((v) => ({ value: v })); },
            afterFit: (s: any) => { s.width = 48; zeroPadding(s); },
          },
        },
      },
      plugins: [decor],
    } as any);

    return () => chart.destroy();
  }, []);

  return (
    <div style={{ position: 'absolute', left: 0, top: 0, width: 1063, height: 446 }}>
      <canvas ref={ref} width={1063} height={446} style={{ display: 'block', width: 1063, height: 446 }} />
    </div>
  );
}
